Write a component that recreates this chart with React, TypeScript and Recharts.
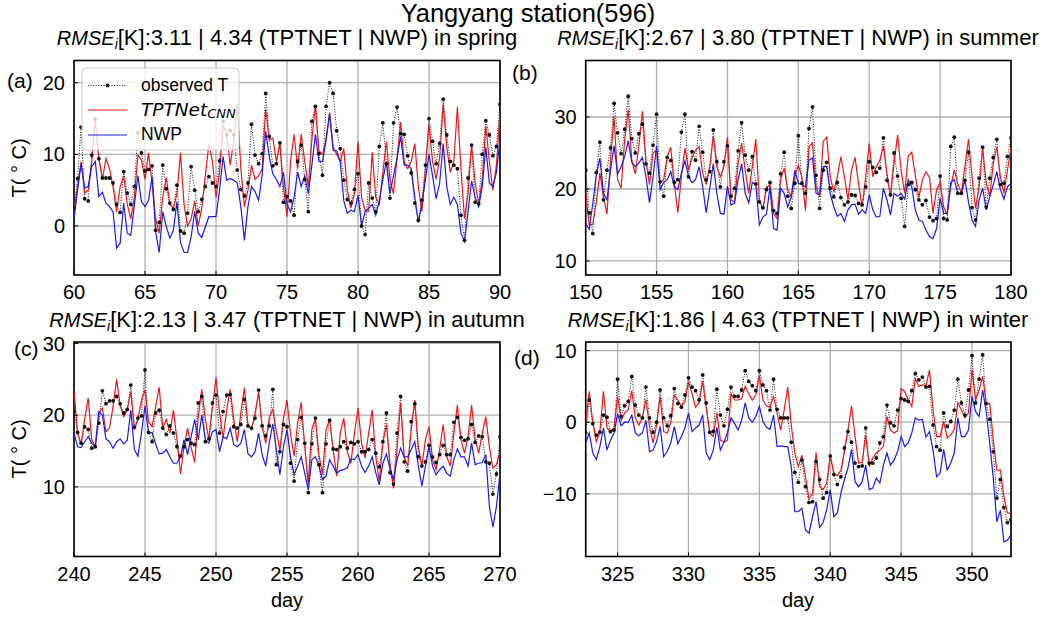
import React from "react";
import { LineChart, Line, XAxis, YAxis, CartesianGrid, ReferenceArea } from "recharts";

const FONT = "'Liberation Sans', Arial, Helvetica, sans-serif";
const MATHFONT = "'DejaVu Sans', sans-serif";

// ---- Spring (days 60-90, 6-hourly) ----
const springStart = 60;
const springObs = [2.5, 6.6, 13.8, 3.8, 3.5, 9.9, 14.9, 9.4, 6.7, 6.7,
  6.7, 6.0, 3.0, 1.9, 7.6, 4.6, 3.0, 5.5, 13.0, 10.2,
  7.7, 7.9, 8.4, -0.6, 0.5, 8.5, 5.2, 3.2, 2.3, 5.7,
  -0.7, -1.0, 1.8, 8.3, 5.0, 2.0, 3.7, 5.5, 6.9, 6.0,
  5.5, 9.1, 14.6, 12.7, 13.3, 12.7, 7.8, 5.1, 4.2, 6.0,
  14.2, 9.9, 8.7, 10.1, 18.5, 12.5, 8.4, 8.7, 11.6, 3.3,
  4.1, 3.5, 1.5, 9.0, 11.3, 6.5, 2.0, 14.6, 16.7, 10.1,
  7.1, 16.7, 20.0, 18.5, 13.3, 10.8, 6.4, 3.7, 3.2, 5.1,
  7.3, 0.0, -1.2, 6.0, 3.9, 2.0, 11.1, 14.4, 8.7, 3.9,
  14.4, 16.6, 12.9, 12.8, 9.8, 7.4, 3.2, 0.8, 3.6, 8.5,
  15.0, 11.8, 8.7, 11.5, 17.7, 12.7, 9.0, 8.5, 8.0, 1.5,
  -2.0, 6.7, 11.3, 3.3, 3.1, 10.0, 14.7, 12.7, 9.8, 11.1,
  17.0];
const springTpt = [2.0, 5.5, 9.0, 4.6, 5.0, 9.0, 14.8, 9.5, 6.5, 9.4,
  8.0, 5.5, 2.0, 5.5, 7.0, 3.0, 1.0, 4.0, 9.9, 9.2,
  6.5, 10.2, 6.0, 1.0, -1.0, 4.0, 6.8, 3.0, 2.5, 4.5,
  10.2, 3.0, 0.0, 1.0, 3.5, 0.0, 2.5, 7.0, 11.5, 9.0,
  4.0, 7.5, 14.0, 13.0, 8.5, 12.0, 17.0, 8.0, 2.7, 5.0,
  8.5, 6.5, 7.0, 8.0, 16.3, 12.0, 12.3, 9.0, 11.5, 5.5,
  1.3, 9.0, 12.8, 8.0, 12.8, 9.0, 5.5, 12.0, 16.9, 10.5,
  10.0, 12.0, 15.8, 11.0, 10.0, 9.0, 10.8, 5.0, 2.5, 4.5,
  11.8, 4.0, 2.2, 2.0, 10.3, 4.0, 3.0, 7.5, 11.8, 6.5,
  4.5, 9.5, 14.5, 9.0, 8.0, 9.0, 11.5, 5.5, 2.0, 8.0,
  14.2, 9.0, 6.5, 9.5, 17.0, 11.0, 7.5, 9.0, 16.6, 8.0,
  1.0, 4.5, 11.3, 6.0, 3.0, 6.5, 14.0, 9.0, 5.0, 8.5,
  15.8];
const springNwp = [1.0, 5.0, 8.7, 5.3, 5.5, 8.3, 9.0, 4.1, 4.7, 3.2,
  2.7, 2.0, -3.1, -2.4, 3.2, -1.0, -1.3, 2.9, 7.0, 3.4,
  2.7, 3.6, 6.9, -0.8, -3.7, 2.0, -0.1, -1.7, -0.6, 3.4,
  -2.3, -3.7, -3.7, -1.5, 2.0, -1.0, -1.6, -0.1, 1.3, 1.3,
  1.3, 5.0, 9.7, 6.4, 6.6, 6.4, 6.0, 2.7, -2.0, 2.7,
  5.5, 4.8, 3.6, 7.1, 13.2, 9.7, 7.3, 6.5, 5.5, 7.5,
  3.0, 2.0, 4.0, 7.5, 5.5, 7.0, 4.5, 8.5, 12.8, 9.0,
  9.0, 12.0, 15.7, 10.5, 10.5, 9.0, 3.5, 1.8, 2.2, 2.0,
  4.3, 0.0, 2.0, 2.5, 3.0, 1.5, 3.5, 6.5, 9.0, 4.5,
  7.0, 9.5, 12.5, 8.5, 8.5, 8.0, 4.0, 0.5, 3.0, 6.5,
  10.0, 7.0, 3.8, 6.0, 11.5, 5.5, 3.0, 4.0, 3.0, -1.0,
  -2.2, 2.0, 6.3, 4.0, 2.7, 5.5, 11.0, 6.0, 5.5, 7.5,
  12.0];

// ---- Summer (days 150-180) ----
const summerStart = 150;
const summerObs = [22.6, 16.7, 13.8, 22.3, 26.5, 18.5, 22.6, 25.7, 31.9, 27.8,
  24.9, 28.3, 32.9, 27.0, 25.0, 27.7, 29.0, 23.5, 22.2, 26.1,
  30.4, 21.0, 19.0, 24.4, 24.0, 20.9, 21.3, 27.9, 30.4, 21.7,
  25.2, 24.0, 28.7, 25.1, 21.3, 22.4, 28.2, 23.8, 20.3, 23.8,
  26.0, 19.0, 20.1, 25.3, 29.2, 24.7, 22.6, 24.5, 20.7, 18.2,
  17.4, 19.9, 20.9, 17.0, 16.6, 22.1, 25.1, 19.0, 17.3, 20.8,
  27.4, 20.8, 19.4, 28.4, 31.4, 21.9, 17.3, 22.6, 23.7, 20.1,
  18.9, 20.9, 18.8, 17.8, 18.2, 19.2, 19.1, 18.0, 17.8, 20.3,
  23.8, 23.0, 22.3, 22.9, 27.1, 21.2, 19.2, 25.0, 21.8, 18.7,
  14.8, 20.6, 20.9, 19.9, 18.5, 17.8, 18.4, 16.1, 15.6, 15.9,
  21.8, 15.9, 15.7, 25.9, 27.2, 19.4, 19.4, 21.2, 25.1, 17.4,
  15.7, 21.5, 25.8, 17.5, 21.5, 24.4, 26.9, 20.6, 20.8, 24.5,
  27.1];
const summerTpt = [19.4, 15.0, 15.1, 18.2, 22.2, 18.9, 16.5, 24.0, 30.1, 21.3,
  20.1, 26.9, 31.0, 24.0, 22.1, 26.0, 30.8, 24.0, 20.6, 25.0,
  25.4, 20.8, 21.3, 24.5, 25.8, 20.8, 16.7, 21.7, 25.7, 22.6,
  24.3, 25.4, 25.9, 22.2, 20.6, 23.1, 27.3, 23.1, 21.7, 23.1,
  27.2, 18.5, 18.2, 23.6, 26.4, 22.6, 19.4, 23.1, 26.9, 18.5,
  17.1, 20.3, 20.5, 16.6, 15.9, 21.3, 22.9, 19.9, 18.9, 21.8,
  23.3, 21.7, 17.0, 25.9, 26.4, 20.3, 18.9, 26.6, 27.2, 21.7,
  19.6, 21.7, 24.5, 21.7, 18.5, 22.6, 24.4, 20.7, 17.5, 21.7,
  26.3, 21.7, 23.1, 24.0, 26.0, 22.2, 18.9, 23.6, 27.5, 22.6,
  19.4, 24.6, 25.1, 21.9, 18.8, 21.3, 22.4, 21.6, 16.6, 19.9,
  20.9, 17.5, 16.4, 20.3, 22.7, 20.7, 19.4, 23.1, 26.9, 21.7,
  17.3, 20.3, 25.7, 20.8, 19.0, 23.6, 25.8, 21.7, 19.4, 22.6,
  25.7];
const summerNwp = [15.2, 14.4, 18.0, 22.0, 24.3, 19.4, 18.5, 22.6, 26.0, 22.1,
  23.1, 24.5, 26.7, 23.7, 23.1, 23.6, 24.4, 21.7, 18.1, 21.7,
  26.0, 19.9, 20.9, 21.3, 22.4, 20.3, 19.9, 22.2, 23.9, 21.8,
  20.9, 21.3, 23.1, 20.3, 16.7, 20.1, 23.5, 19.4, 16.6, 16.5,
  20.4, 17.8, 18.0, 21.3, 23.5, 19.4, 18.1, 20.9, 20.6, 15.0,
  16.1, 16.5, 20.3, 14.5, 14.3, 20.1, 19.4, 17.5, 18.9, 22.6,
  20.8, 20.6, 20.3, 24.0, 24.3, 19.4, 19.2, 23.1, 23.1, 19.4,
  17.5, 16.2, 16.6, 15.5, 17.1, 17.8, 17.9, 16.5, 17.1, 16.6,
  19.2, 17.1, 16.1, 16.2, 20.1, 18.5, 16.4, 19.4, 19.0, 19.4,
  18.6, 21.3, 20.3, 17.1, 15.7, 15.5, 14.3, 13.4, 13.1, 14.5,
  18.7, 16.6, 16.6, 20.9, 21.3, 19.3, 19.4, 21.3, 18.2, 15.7,
  14.8, 18.5, 20.1, 17.1, 18.9, 20.6, 22.4, 19.9, 18.6, 20.3,
  20.8];

// ---- Autumn (days 240-270) ----
const autumnStart = 240;
const autumnObs = [20.5, 17.6, 16.1, 18.4, 18.0, 15.4, 15.6, 18.9, 23.4, 21.6,
  22.0, 22.0, 22.6, 21.6, 20.3, 20.8, 24.2, 18.3, 19.6, 19.9,
  26.3, 17.6, 16.3, 20.3, 20.7, 18.2, 17.3, 18.5, 17.5, 15.6,
  14.3, 15.6, 16.6, 16.1, 15.9, 21.7, 22.6, 16.3, 16.7, 21.7,
  22.8, 17.5, 20.5, 22.8, 22.9, 18.4, 18.2, 18.7, 22.2, 18.5,
  18.2, 19.6, 23.5, 18.5, 17.1, 18.5, 23.6, 13.1, 14.9, 18.7,
  18.4, 13.3, 10.8, 16.6, 19.7, 16.1, 9.2, 16.0, 19.6, 13.1,
  9.2, 16.0, 19.3, 15.3, 15.2, 15.6, 16.3, 15.4, 16.2, 16.0,
  16.3, 14.9, 14.9, 15.2, 16.6, 14.7, 12.8, 16.3, 20.3, 12.0,
  10.4, 17.5, 22.6, 13.5, 12.2, 19.1, 21.6, 14.2, 12.9, 13.5,
  15.8, 14.2, 13.4, 14.5, 15.8, 14.5, 14.5, 19.0, 19.7, 16.9,
  16.5, 16.7, 18.7, 16.2, 17.1, 17.0, 13.5, 13.3, 9.0, 11.8,
  17.0];
const autumnTpt = [23.5, 17.5, 15.9, 19.4, 22.4, 16.6, 15.6, 20.3, 21.0, 17.7,
  18.2, 21.2, 25.0, 21.4, 19.8, 20.7, 23.3, 18.0, 19.4, 22.1,
  23.5, 19.1, 18.4, 21.2, 23.9, 18.2, 19.4, 17.5, 20.7, 16.6,
  11.8, 15.6, 18.2, 15.5, 13.4, 19.8, 23.6, 19.4, 16.6, 21.2,
  25.2, 20.3, 16.8, 20.7, 23.6, 19.4, 16.3, 20.3, 23.8, 18.7,
  18.0, 20.3, 23.1, 18.4, 16.1, 19.6, 20.8, 17.7, 15.2, 19.6,
  22.1, 17.3, 14.3, 18.9, 21.8, 15.6, 10.6, 18.0, 19.6, 14.5,
  11.7, 18.0, 19.4, 15.2, 11.5, 17.5, 19.6, 14.9, 13.3, 17.5,
  21.0, 16.1, 14.0, 17.5, 20.7, 14.2, 10.8, 16.1, 18.7, 13.3,
  9.8, 15.2, 21.7, 14.2, 12.9, 18.0, 22.1, 15.6, 12.9, 16.6,
  18.4, 13.8, 12.4, 15.2, 18.7, 14.2, 12.9, 17.5, 21.4, 16.6,
  14.7, 17.0, 21.4, 16.6, 14.7, 17.5, 19.8, 15.6, 12.6, 13.1,
  14.9];
const autumnNwp = [17.5, 15.6, 15.5, 16.3, 17.0, 16.1, 15.6, 20.5, 20.0, 16.7,
  16.3, 15.4, 16.3, 16.7, 16.0, 16.5, 20.7, 15.2, 14.3, 17.5,
  21.3, 17.5, 17.6, 16.0, 14.6, 14.7, 15.2, 14.2, 13.3, 13.3,
  14.2, 16.6, 14.5, 17.0, 19.4, 16.6, 20.0, 16.6, 16.1, 17.7,
  18.0, 14.9, 17.0, 16.7, 18.2, 15.9, 15.6, 16.1, 18.0, 14.6,
  14.2, 14.9, 17.5, 14.5, 12.9, 16.1, 18.8, 15.2, 11.7, 15.6,
  18.0, 14.2, 11.7, 12.9, 14.2, 11.9, 9.6, 13.8, 14.2, 12.9,
  11.0, 11.5, 13.8, 12.9, 11.9, 12.3, 12.4, 12.7, 13.9, 13.8,
  14.5, 12.9, 12.0, 12.9, 14.2, 12.0, 10.3, 13.3, 14.6, 12.6,
  11.0, 13.8, 15.4, 14.2, 14.2, 15.2, 16.3, 12.9, 10.1, 12.9,
  15.6, 12.9, 11.7, 12.4, 12.9, 11.9, 11.5, 13.8, 15.3, 14.2,
  14.2, 12.9, 16.1, 13.1, 13.3, 13.4, 14.5, 7.3, 4.4, 7.3,
  11.9];

// ---- Winter (days 322.75-352.75) ----
const winterStart = 322.75;
const winterObs = [-1.5, 3.1, -0.2, -1.8, -1.4, 1.0, 0.7, -1.3, -1.1, 6.0,
  0.8, 2.3, 2.9, 6.4, 2.4, 1.0, 0.6, 4.9, 0.6, -1.4,
  0.0, 4.5, 0.6, -0.5, 0.9, 4.7, 2.6, 2.1, 3.8, 6.2,
  4.9, 4.4, 3.1, 6.6, 2.7, -1.4, -1.3, 4.6, 1.0, -0.5,
  1.8, 4.9, 3.6, 3.6, 4.5, 7.2, 5.7, 5.1, 4.4, 7.2,
  5.2, 4.4, 1.7, 6.0, 1.8, 0.6, 0.6, 0.6, -2.8, -7.0,
  -8.4, -5.3, -9.0, -11.2, -11.1, -5.5, -8.0, -10.6, -9.8, -4.7,
  -7.3, -8.7, -7.6, -3.6, -1.3, -2.8, -5.7, -6.2, -6.1, -0.8,
  -5.7, -5.7, -5.0, -2.9, -2.0, 2.4, -0.1, -0.5, 1.7, 3.3,
  3.1, 2.9, 4.4, 6.8, 5.9, 6.3, 4.9, 5.0, -0.4, -3.4,
  -3.9, 1.3, -0.6, 0.1, 1.7, 6.0, 2.7, 1.0, 4.5, 9.3,
  2.7, 6.0, 9.4, 2.6, 0.4, -4.1, -10.6, -8.0, -11.9, -14.0,
  -13.6];
const winterTpt = [-0.1, 4.3, -0.1, -2.7, -1.3, 4.3, -0.8, -1.3, -0.8, 3.6,
  0.3, 1.3, 1.7, 4.4, 0.6, -0.4, 0.6, 3.2, -0.6, -2.9,
  -0.4, 3.6, -1.3, -1.5, -0.1, 3.8, 3.1, 2.2, 2.9, 5.7,
  4.0, 2.1, 2.7, 5.7, 2.0, -1.5, -2.0, 1.3, -2.5, -2.8,
  -2.5, 4.0, 3.1, 3.1, 3.3, 5.0, 4.0, 3.1, 3.8, 6.5,
  3.1, 2.3, 2.1, 3.6, 1.3, -1.1, 1.7, 4.9, -0.4, -4.3,
  -6.2, -4.6, -7.6, -10.7, -9.9, -4.2, -9.0, -9.4, -8.5, -4.6,
  -7.1, -7.5, -6.7, -4.1, -1.1, 2.3, -2.0, -5.7, -5.6, -1.8,
  -6.2, -5.0, -4.3, -3.9, -3.4, 0.8, -1.1, -1.5, -1.2, 4.7,
  4.3, 3.1, 2.2, 6.1, 5.0, 5.2, 5.1, 7.3, 1.7, -2.0,
  -2.0, 0.1, -2.2, -1.8, -1.0, 2.7, 1.7, 0.6, 1.3, 7.3,
  3.1, 4.5, 6.4, 2.7, 2.6, -2.5, -6.7, -6.7, -10.4, -12.7,
  -12.7];
const winterNwp = [-2.9, -1.5, -4.3, -5.2, -3.4, -0.8, -3.9, -2.5, -1.5, 1.2,
  -0.5, 0.0, 0.0, 1.0, -1.5, -1.9, -1.5, 0.3, -4.1, -3.9,
  -2.7, -0.6, -4.8, -4.1, -2.9, -0.6, -3.0, -2.0, -0.8, 1.3,
  -1.3, -0.8, -0.4, 1.0, -4.3, -5.2, -3.9, -0.7, -3.9, -2.8,
  -1.5, 0.6, -0.2, -1.1, 0.3, 2.7, 0.6, 0.0, 0.8, 2.2,
  0.1, -0.7, -1.0, 1.0, -3.4, -3.3, -3.4, -3.4, -6.2, -12.5,
  -12.5, -12.0, -15.0, -15.5, -13.2, -11.1, -14.7, -14.0, -12.2, -9.4,
  -13.2, -12.7, -9.9, -8.0, -6.4, -3.8, -8.3, -9.0, -8.3, -6.0,
  -9.4, -9.2, -7.8, -8.5, -6.0, -4.3, -6.0, -5.3, -4.1, -2.0,
  -3.4, -2.9, -1.5, 0.6, 0.3, 0.4, -2.1, -1.3, -3.9, -7.6,
  -7.1, -3.8, -6.7, -5.7, -4.3, 0.6, -2.0, -2.0, -1.1, 3.6,
  1.5, 0.8, 4.5, 1.5, -2.9, -7.8, -13.9, -12.3, -16.7, -16.5,
  -15.7];

// ---- ticks and labels ----
const springTicks = [60, 65, 70, 75, 80, 85, 90];
const summerTicks = [150, 155, 160, 165, 170, 175, 180];
const autumnTicks = [240, 245, 250, 255, 260, 265, 270];
const winterTicks = [325, 330, 335, 340, 345, 350];
const springYTicks = [0, 10, 20];
const summerYTicks = [10, 20, 30];
const autumnYTicks = [10, 20, 30];
const winterYTicks = [-10, 0, 10];

const titleText = "Yangyang station(596)";
const subtitles = [
  { season: "spring", tpt: "3.11", nwp: "4.34" },
  { season: "summer", tpt: "2.67", nwp: "3.80" },
  { season: "autumn", tpt: "2.13", nwp: "3.47" },
  { season: "winter", tpt: "1.86", nwp: "4.63" },
];
const panelLabels = ["(a)", "(b)", "(c)", "(d)"];
const seriesNames = ["observed T", "TPTNet", "NWP"];

const STEP = 0.25; // 6-hourly samples

function buildRows(start: number, obs: number[], tpt: number[], nwp: number[]) {
  return obs.map((o, i) => ({ day: start + i * STEP, obs: o, tpt: tpt[i], nwp: nwp[i] }));
}

const RED = "#e8191c";
const BLUE = "#1c1ce6";
const TICK_FS = 20;

const fmt = (v: number) => String(v).replace("-", "\u2212");

type PanelProps = {
  left: number; top: number; w: number; h: number;
  margin: { top: number; right: number; bottom: number; left: number };
  yW: number;
  xDomain: [number, number]; xTicks: number[];
  yDomain: [number, number]; yTicks: number[];
  rows: any[];
};

function Panel(p: PanelProps) {
  return (
    <div style={{ position: "absolute", left: p.left, top: p.top, width: p.w, height: p.h }}>
      <LineChart width={p.w} height={p.h} data={p.rows} margin={p.margin}>
        <CartesianGrid stroke="#b0b0b0" strokeWidth={1.3} />
        <XAxis
          dataKey="day"
          type="number"
          domain={p.xDomain}
          ticks={p.xTicks}
          allowDataOverflow
          interval={0}
          height={25}
          axisLine={false}
          tickSize={-4}
          tickMargin={14}
          tickLine={{ stroke: "#000", strokeWidth: 1 }}
          tick={{ fontSize: TICK_FS, fill: "#000", fontFamily: FONT }}
        />
        <YAxis
          type="number"
          domain={p.yDomain}
          ticks={p.yTicks}
          allowDataOverflow
          interval={0}
          width={p.yW}
          axisLine={false}
          tickSize={-4}
          tickMargin={13}
          tickFormatter={fmt}
          tickLine={{ stroke: "#000", strokeWidth: 1 }}
          tick={{ fontSize: TICK_FS, fill: "#000", fontFamily: FONT }}
        />
        <Line
          dataKey="obs"
          stroke="#111"
          strokeWidth={1}
          strokeDasharray="1 1.6"
          dot={{ r: 1.9, fill: "#111", stroke: "#111", strokeWidth: 0, strokeDasharray: "0" }}
          activeDot={false}
          isAnimationActive={false}
        />
        <Line dataKey="tpt" stroke={RED} strokeWidth={1.2} dot={false} activeDot={false} isAnimationActive={false} />
        <Line dataKey="nwp" stroke={BLUE} strokeWidth={1.2} dot={false} activeDot={false} isAnimationActive={false} />
        <ReferenceArea
          x1={p.xDomain[0]}
          x2={p.xDomain[1]}
          y1={p.yDomain[0]}
          y2={p.yDomain[1]}
          fill="none"
          fillOpacity={0}
          stroke="#000"
          strokeWidth={1.6}
          ifOverflow="visible"
        />
      </LineChart>
    </div>
  );
}

function Subtitle({ x, y, s }: { x: number; y: number; s: { season: string; tpt: string; nwp: string } }) {
  return (
    <text x={x} y={y} textAnchor="middle" fontSize={22} fontFamily={FONT} fill="#000">
      <tspan fontStyle="italic" fontSize={20}>RMSE</tspan>
      <tspan fontStyle="italic" fontSize={14} dy={4}>i</tspan>
      <tspan dy={-4}>{`[K]:${s.tpt} | ${s.nwp} (TPTNET | NWP) in ${s.season}`}</tspan>
    </text>
  );
}

export default function App() {
  const topM = { top: 60.5, right: 20, bottom: 10, left: 0 };
  const topMR = { top: 60.5, right: 40, bottom: 10, left: 0 };
  const botM = { top: 42, right: 20, bottom: 35.5, left: 0 };
  const botMR = { top: 42, right: 40, bottom: 35.5, left: 0 };
  return (
    <div style={{ position: "relative", width: 1051, height: 617, background: "#fff", fontFamily: FONT }}>
      <style>{"body{margin:0}"}</style>
      <Panel left={0} top={0} w={520} h={310} margin={topM} yW={74}
        xDomain={[60, 90]} xTicks={springTicks} yDomain={[-6.84, 23.1]} yTicks={springYTicks}
        rows={buildRows(springStart, springObs, springTpt, springNwp)} />
      <Panel left={520} top={0} w={531} h={310} margin={topMR} yW={65.7}
        xDomain={[150, 180]} xTicks={summerTicks} yDomain={[8.05, 37.85]} yTicks={summerYTicks}
        rows={buildRows(summerStart, summerObs, summerTpt, summerNwp)} />
      <Panel left={0} top={300} w={520} h={317} margin={botM} yW={74}
        xDomain={[240, 270]} xTicks={autumnTicks} yDomain={[0.3, 30.2]} yTicks={autumnYTicks}
        rows={buildRows(autumnStart, autumnObs, autumnTpt, autumnNwp)} />
      <Panel left={520} top={300} w={531} h={317} margin={botMR} yW={65.7}
        xDomain={[322.75, 352.75]} xTicks={winterTicks} yDomain={[-18.75, 11.2]} yTicks={winterYTicks}
        rows={buildRows(winterStart, winterObs, winterTpt, winterNwp)} />

      <svg width={1051} height={617} style={{ position: "absolute", left: 0, top: 0, pointerEvents: "none" }}>
        <text x={528} y={22} textAnchor="middle" fontSize={25.5} fontFamily={FONT} fill="#000">{titleText}</text>
        <Subtitle x={287} y={45} s={subtitles[0]} />
        <Subtitle x={798} y={45} s={subtitles[1]} />
        <Subtitle x={287} y={327} s={subtitles[2]} />
        <Subtitle x={798} y={327} s={subtitles[3]} />

        <text x={7} y={88} fontSize={21} fontFamily={FONT} fill="#000">{panelLabels[0]}</text>
        <text x={512} y={80} fontSize={21} fontFamily={FONT} fill="#000">{panelLabels[1]}</text>
        <text x={14} y={356} fontSize={21} fontFamily={FONT} fill="#000">{panelLabels[2]}</text>
        <text x={514} y={365} fontSize={21} fontFamily={FONT} fill="#000">{panelLabels[3]}</text>

        <text transform="translate(19,168) rotate(-90)" textAnchor="middle" dominantBaseline="central" fontSize={TICK_FS} fontFamily={FONT} fill="#000">T( ° C)</text>
        <text transform="translate(19,449) rotate(-90)" textAnchor="middle" dominantBaseline="central" fontSize={TICK_FS} fontFamily={FONT} fill="#000">T( ° C)</text>
        <text x={287} y={607} textAnchor="middle" fontSize={TICK_FS} fontFamily={FONT} fill="#000">day</text>
        <text x={798} y={607} textAnchor="middle" fontSize={TICK_FS} fontFamily={FONT} fill="#000">day</text>

        <g>
          <rect x={82} y={68} width={157} height={82} rx={4} fill="#fff" fillOpacity={0.8} stroke="#cccccc" strokeWidth={1} />
          <line x1={88} x2={127} y1={85.5} y2={85.5} stroke="#111" strokeWidth={1} strokeDasharray="1 1.6" />
          <circle cx={107.5} cy={85.5} r={1.9} fill="#111" />
          <text x={141} y={84.5} dominantBaseline="central" fontSize={17.5} fontFamily={FONT} fill="#000">{seriesNames[0]}</text>
          <line x1={88} x2={127} y1={110} y2={110} stroke={RED} strokeWidth={1.2} />
          <text x={141} y={109} dominantBaseline="central" fontSize={18.5} fontFamily={MATHFONT} fill="#000">
            <tspan fontStyle="italic">{seriesNames[1]}</tspan>
            <tspan fontStyle="italic" fontSize={13} dy={4}>CNN</tspan>
          </text>
          <line x1={88} x2={127} y1={135} y2={135} stroke={BLUE} strokeWidth={1.2} />
          <text x={141} y={134} dominantBaseline="central" fontSize={17.5} fontFamily={FONT} fill="#000">{seriesNames[2]}</text>
        </g>
      </svg>
    </div>
  );
}
